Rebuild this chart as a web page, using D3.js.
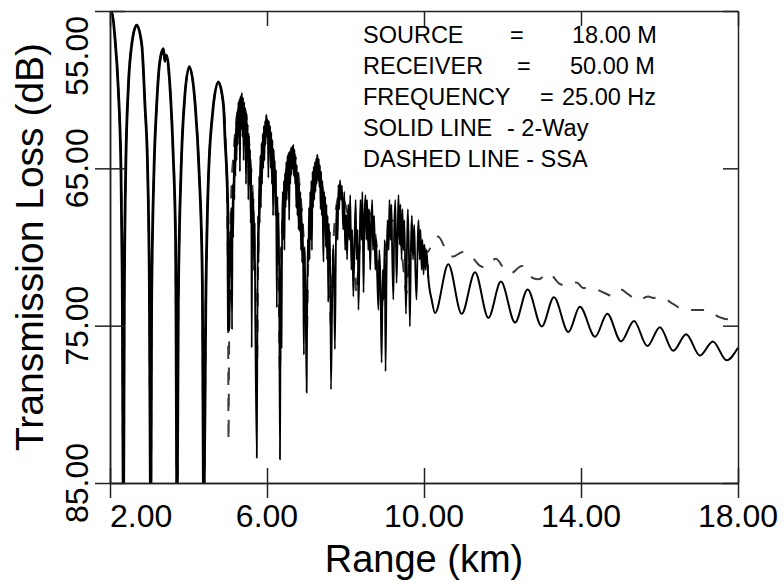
<!DOCTYPE html>
<html>
<head>
<meta charset="utf-8">
<script src="https://cdn.jsdelivr.net/npm/d3@7"></script>
<style>
  body { margin: 0; background: #fff; }
  svg text { font-family: "Liberation Sans", Arial, sans-serif; fill: #000; }
</style>
</head>
<body>
<div id="chart"></div>
<script>
// ---- data: [range km, transmission loss dB] ----
// 2-way, interference lobes before the noisy part
var twoWayNear = [
  [2.00, 55.05], [2.03, 55.0], [2.127, 56.73], [2.21, 59.9], [2.28, 65.2], [2.31, 71.6], [2.345, 88],
  [2.364, 73.7], [2.40, 65.2], [2.466, 59.9], [2.553, 57.15], [2.68, 55.9], [2.81, 57.15], [2.89, 60.95], [2.96, 65.2], [3.0, 71.6], [3.04, 88],
  [3.06, 73.7], [3.12, 65.2], [3.19, 60.95], [3.27, 58.2], [3.36, 57.4], [3.40, 58.2], [3.44, 57.8], [3.53, 59.9], [3.61, 64.15], [3.67, 69.4], [3.71, 88],
  [3.74, 73.7], [3.81, 65.2], [3.89, 60.95], [4.02, 58.54], [4.17, 60.95], [4.27, 65.2], [4.35, 71.6], [4.39, 88],
  [4.44, 73.7], [4.50, 66.2], [4.61, 61.6], [4.76, 59.5], [4.89, 60.95], [4.93, 63.1], [5.0, 67.3], [5.02, 75.3]
];
// 2-way, noisy part 5 - 10 km
var twoWayNoisy = [
  [5.045, 72.7], [5.06, 69.0], [5.075, 71.5], [5.09, 67.5], [5.11, 75.25], [5.125, 66.0], [5.14, 69.4], [5.155, 64.5],
  [5.17, 67.0], [5.18, 63.1], [5.195, 65.5], [5.21, 62.0], [5.225, 64.5], [5.24, 61.4], [5.255, 63.5], [5.27, 60.8],
  [5.285, 63.0], [5.30, 60.6], [5.31, 65.2], [5.325, 60.4], [5.34, 62.5], [5.36, 60.2], [5.375, 63.0], [5.39, 60.5],
  [5.405, 64.5], [5.42, 60.8], [5.435, 63.5], [5.45, 61.2], [5.465, 66.0], [5.48, 61.5], [5.495, 64.0], [5.51, 62.2],
  [5.525, 67.0], [5.54, 62.9], [5.555, 66.0], [5.57, 63.8], [5.585, 68.5], [5.60, 65.0], [5.61, 76.4], [5.625, 66.5],
  [5.64, 70.0], [5.655, 66.9], [5.67, 71.5], [5.685, 68.5], [5.70, 74.0], [5.74, 83.4],
  [5.755, 75.0], [5.77, 68.0], [5.785, 71.0], [5.80, 65.5], [5.815, 68.5], [5.83, 64.2], [5.845, 67.5], [5.86, 63.4],
  [5.875, 66.0], [5.89, 62.8], [5.905, 65.0], [5.92, 62.3], [5.935, 64.5], [5.95, 62.0], [5.965, 63.5], [5.98, 61.7],
  [5.99, 61.6], [6.005, 63.0], [6.02, 61.9], [6.035, 65.6], [6.05, 62.0], [6.065, 64.0], [6.08, 62.3], [6.095, 65.0],
  [6.11, 62.7], [6.125, 66.0], [6.14, 63.2], [6.155, 68.0], [6.17, 63.8], [6.185, 66.5], [6.20, 64.5], [6.215, 68.0],
  [6.23, 65.1], [6.25, 73.85], [6.265, 66.8], [6.28, 70.3], [6.295, 67.8], [6.31, 71.5], [6.33, 83.5],
  [6.345, 75.25], [6.36, 70.0], [6.37, 76.4], [6.385, 68.9], [6.40, 66.5], [6.415, 69.5], [6.43, 65.8], [6.445, 70.2],
  [6.46, 65.3], [6.475, 67.5], [6.49, 64.6], [6.505, 67.0], [6.52, 64.2], [6.535, 66.4], [6.55, 64.0], [6.565, 68.3],
  [6.58, 63.9], [6.595, 66.0], [6.61, 63.7], [6.625, 65.4], [6.64, 63.6], [6.655, 65.0], [6.67, 63.5], [6.685, 65.5],
  [6.70, 63.8], [6.715, 66.0], [6.73, 64.3], [6.745, 67.5], [6.76, 64.8], [6.775, 68.0], [6.79, 65.3], [6.805, 68.9],
  [6.82, 66.0], [6.835, 69.0], [6.85, 66.5], [6.865, 70.2], [6.88, 67.5], [6.895, 71.0], [6.91, 68.5], [6.925, 72.1],
  [6.94, 76.85], [6.955, 70.0], [6.97, 71.6], [6.985, 73.35], [7.01, 79.25],
  [7.025, 73.35], [7.04, 69.5], [7.055, 71.0], [7.07, 67.5], [7.085, 70.8], [7.10, 66.5], [7.115, 69.5], [7.13, 65.8],
  [7.145, 70.2], [7.16, 65.2], [7.175, 67.5], [7.19, 64.9], [7.205, 67.0], [7.22, 64.6], [7.235, 66.5], [7.25, 64.4],
  [7.265, 66.0], [7.28, 64.2], [7.29, 64.15], [7.305, 65.8], [7.32, 64.4], [7.335, 66.2], [7.35, 64.8], [7.365, 67.6],
  [7.38, 65.2], [7.395, 68.0], [7.41, 65.8], [7.425, 68.9], [7.44, 70.95], [7.455, 66.5], [7.47, 68.0], [7.485, 66.8],
  [7.50, 70.0], [7.515, 67.3], [7.53, 70.8], [7.545, 68.0], [7.56, 73.5], [7.575, 68.5], [7.59, 70.2], [7.605, 69.0],
  [7.63, 79.05],
  [7.66, 73.35], [7.69, 69.85], [7.71, 72.1], [7.73, 76.5], [7.76, 68.9], [7.78, 67.3], [7.80, 69.55], [7.82, 66.05],
  [7.84, 67.6], [7.86, 65.75], [7.89, 67.0], [7.91, 66.1], [7.94, 68.9], [7.97, 66.5], [7.99, 70.2], [8.02, 67.95],
  [8.04, 70.8], [8.07, 67.3], [8.10, 69.55], [8.12, 66.7], [8.15, 71.45], [8.17, 68.9], [8.20, 73.15], [8.23, 69.55],
  [8.26, 67.0], [8.28, 70.8], [8.31, 68.9], [8.33, 74.0], [8.36, 70.2], [8.38, 67.0], [8.41, 69.55], [8.43, 66.5],
  [8.46, 72.9], [8.48, 68.3], [8.51, 66.7], [8.53, 69.55], [8.55, 67.0], [8.58, 70.2], [8.60, 67.6], [8.63, 71.45],
  [8.65, 68.9], [8.68, 67.0], [8.70, 70.2], [8.73, 68.0], [8.76, 71.45], [8.78, 69.55], [8.81, 72.1], [8.84, 74.0],
  [8.86, 70.2], [8.89, 72.1], [8.92, 77.35], [8.95, 71.45], [8.97, 73.35], [9.00, 69.55], [9.02, 77.9], [9.05, 70.8],
  [9.07, 68.3], [9.10, 70.2], [9.12, 67.0], [9.15, 69.55], [9.17, 67.3], [9.19, 70.5], [9.22, 73.35], [9.24, 68.9],
  [9.27, 67.0], [9.30, 72.3], [9.33, 68.9], [9.35, 66.7], [9.38, 69.85], [9.40, 67.3], [9.43, 70.8], [9.45, 67.6],
  [9.48, 70.2], [9.50, 68.3], [9.54, 74.25], [9.57, 69.55], [9.59, 67.6], [9.62, 71.1], [9.64, 75.05], [9.67, 69.55],
  [9.69, 68.0], [9.72, 70.8], [9.75, 68.6], [9.78, 71.45], [9.81, 73.35], [9.84, 69.55], [9.86, 68.3], [9.89, 70.8],
  [9.91, 68.9], [9.94, 71.45], [9.96, 69.55], [9.99, 71.75], [10.01, 69.85], [10.04, 71.45], [10.06, 70.2], [10.09, 71.1]
];
// 2-way, smooth tail (peaks and troughs)
var twoWayTail = [
  [10.11, 71.95], [10.20, 73.4], [10.28, 74.2], [10.62, 71.1], [10.96, 74.25], [11.30, 71.6], [11.64, 74.5],
  [11.96, 72.2], [12.32, 74.8], [12.64, 72.7], [13.0, 75.05], [13.31, 73.2], [13.68, 75.4], [13.97, 73.8],
  [14.36, 75.7], [14.67, 74.25], [15.02, 76.0], [15.35, 74.7], [15.69, 76.3], [16.01, 75.1], [16.35, 76.6],
  [16.68, 75.55], [17.03, 76.9], [17.36, 76.0], [17.71, 77.2], [18.0, 76.4]
];
// SSA, 2 - 10 km (mostly under the 2-way line)
var ssaNear = [
  [2.00, 55.05], [2.03, 55.0], [2.127, 56.8], [2.21, 59.9], [2.28, 65.2], [2.31, 71.6], [2.345, 88],
  [2.364, 73.7], [2.40, 65.2], [2.466, 59.9], [2.553, 57.15], [2.68, 55.9], [2.81, 57.15], [2.89, 60.95], [2.96, 65.2], [3.0, 71.6], [3.04, 88],
  [3.06, 73.7], [3.12, 65.2], [3.19, 60.95], [3.27, 58.2], [3.38, 57.5], [3.53, 59.9], [3.61, 64.15], [3.67, 69.4], [3.71, 88],
  [3.74, 73.7], [3.81, 65.2], [3.89, 60.95], [4.02, 58.6], [4.17, 60.95], [4.27, 65.2], [4.35, 71.6], [4.39, 88],
  [4.44, 73.7], [4.50, 66.2], [4.61, 61.6], [4.76, 59.6], [4.89, 61.0], [4.95, 63.5], [4.99, 68], [5.01, 75], [5.02, 82.35],
  [5.03, 78], [5.05, 72], [5.09, 66.5], [5.15, 64.0], [5.22, 61.8], [5.36, 60.8], [5.48, 61.8], [5.58, 64.5], [5.66, 68], [5.71, 73], [5.74, 79],
  [5.77, 72], [5.82, 66], [5.90, 63.2], [5.99, 62.2], [6.10, 63.0], [6.20, 65.2], [6.28, 69], [6.33, 78],
  [6.37, 70], [6.45, 66], [6.55, 64.4], [6.67, 64.0], [6.78, 65.0], [6.88, 67.5], [6.96, 71], [7.01, 76],
  [7.05, 71], [7.12, 67], [7.20, 65.4], [7.29, 64.8], [7.38, 65.6], [7.48, 67.5], [7.57, 70.5], [7.63, 75],
  [7.68, 70.5], [7.76, 67.5], [7.86, 66.6], [7.96, 67], [8.06, 68], [8.16, 69.5], [8.24, 71.5], [8.28, 73],
  [8.33, 71], [8.42, 68.5], [8.55, 67.6], [8.68, 68.3], [8.80, 70], [8.88, 72.5], [8.92, 74],
  [8.97, 72], [9.05, 69.5], [9.18, 68.3], [9.30, 68.8], [9.42, 70], [9.50, 72], [9.55, 73],
  [9.60, 71.5], [9.70, 69.8], [9.82, 69.4], [9.95, 69.8], [10.05, 70.2]
];
// SSA, tail beyond 10 km
var ssaTail = [
  [10.10, 70.3], [10.19, 69.85], [10.36, 69.33], [10.50, 69.9], [10.58, 70.4], [10.74, 70.6], [10.87, 70.45],
  [11.00, 70.3], [11.17, 70.5], [11.43, 71.2], [11.55, 71.3], [11.83, 70.75], [12.09, 71.55], [12.22, 71.65],
  [12.49, 71.2], [12.77, 71.97], [12.92, 72.05], [13.17, 71.65], [13.46, 72.35], [13.62, 72.45], [13.89, 72.25],
  [14.05, 72.6], [14.23, 72.6], [14.40, 72.7], [14.64, 72.97], [14.78, 73.1], [15.01, 72.7], [15.20, 73.0],
  [15.46, 73.4], [15.71, 73.14], [15.84, 73.24], [16.05, 73.2], [16.31, 73.56], [16.65, 74.0], [16.85, 74.0],
  [17.16, 74.0], [17.54, 74.47], [17.75, 74.6], [18.0, 74.5]
];

var xTicks = [2, 6, 10, 14, 18];
var yTicks = [55, 65, 75, 85];
var infoLines = [
  ["SOURCE", "=", "18.00 M"],
  ["RECEIVER", "=", "50.00 M"],
  ["FREQUENCY", "=", "25.00 Hz"],
  ["SOLID LINE", "- 2-Way", ""],
  ["DASHED LINE - SSA", "", ""]
];

// size of the svg
var W = 784, H = 583;
var margin = { top: 11, right: 46, bottom: 100, left: 110 },
    w = W - margin.left - margin.right,
    h = H - margin.top - margin.bottom;

var svg = d3.select('#chart').append('svg')
    .attr('width', W)
    .attr('height', H);

var g = svg.append('g')
    .attr('transform', `translate(${margin.left},${margin.top})`);

var x = d3.scaleLinear().domain([2, 18]).range([0, w]);
var y = d3.scaleLinear().domain([55, 85]).range([0, h]);

g.append('clipPath').attr('id', 'plotclip')
  .append('rect').attr('width', w).attr('height', h);

var line = d3.line()
    .x(function (d) { return x(d[0]); })
    .y(function (d) { return y(d[1]); })
    .curve(d3.curveMonotoneX);

var plot = g.append('g').attr('clip-path', 'url(#plotclip)');

// SSA first, dashed, under the 2-way line
plot.append('path')
    .datum(ssaNear.concat(ssaTail))
    .attr('d', line)
    .attr('fill', 'none')
    .attr('stroke', '#3c3c3c')
    .attr('stroke-width', 2)
    .attr('stroke-dasharray', '13,13');

// 2-way in three pieces: heavy lobes, finer noisy band, smooth tail
function drawTwoWay(pts, sw) {
  plot.append('path')
      .datum(pts)
      .attr('d', line)
      .attr('fill', 'none')
      .attr('stroke', '#000')
      .attr('stroke-width', sw)
      .attr('stroke-linejoin', 'round');
}
drawTwoWay(twoWayNear.concat(twoWayNoisy.slice(0, 1)), 2.8);
drawTwoWay(twoWayNear.slice(-1).concat(twoWayNoisy, twoWayTail.slice(0, 1)), 1.8);
drawTwoWay(twoWayNoisy.slice(-1).concat(twoWayTail), 2);

// axes: frame plus ticks crossing the axes
function styleAxis(sel) {
  sel.selectAll('path').attr('stroke', '#222').attr('stroke-width', 1.5);
  sel.selectAll('line').attr('stroke', '#222').attr('stroke-width', 1.5);
  sel.selectAll('text').remove();
}
g.append('g').call(d3.axisLeft(y).tickValues(yTicks).tickSize(15).tickSizeOuter(0)).call(styleAxis);
g.append('g').call(d3.axisLeft(y).tickValues(yTicks).tickSize(-15).tickSizeOuter(0)).call(styleAxis);
g.append('g').attr('transform', `translate(${w},0)`)
  .call(d3.axisRight(y).tickValues(yTicks).tickSize(-15).tickSizeOuter(0)).call(styleAxis);
g.append('g').call(d3.axisTop(x).tickValues(xTicks).tickSize(-15).tickSizeOuter(0)).call(styleAxis);
g.append('g').attr('transform', `translate(0,${h})`)
  .call(d3.axisBottom(x).tickValues(xTicks).tickSize(15).tickSizeOuter(0)).call(styleAxis);
g.append('g').attr('transform', `translate(0,${h})`)
  .call(d3.axisBottom(x).tickValues(xTicks).tickSize(-15).tickSizeOuter(0)).call(styleAxis);

var fmt = d3.format('.2f');

// tick labels
g.selectAll('.xlab').data(xTicks).enter().append('text')
    .attr('class', 'xlab')
    .attr('x', function (d) { return x(d); })
    .attr('y', h + 44)
    .attr('text-anchor', function (d, i) { return i === 0 ? 'start' : 'middle'; })
    .style('font-size', '32px')
    .text(fmt);

g.selectAll('.ylab').data(yTicks).enter().append('text')
    .attr('class', 'ylab')
    .attr('transform', function (d, i) {
      var yy = i === 0 ? 45 : y(d);
      return `translate(-22,${yy}) rotate(-90)`;
    })
    .attr('text-anchor', 'middle')
    .style('font-size', '32px')
    .text(fmt);

// axis titles
g.append('text')
    .attr('x', w / 2)
    .attr('y', h + 89)
    .attr('text-anchor', 'middle')
    .style('font-size', '38px')
    .text('Range (km)');

g.append('text')
    .attr('transform', `translate(-67,${h / 2}) rotate(-90)`)
    .attr('text-anchor', 'middle')
    .style('font-size', '39px')
    .text('Transmission Loss (dB)');

// info block
var colX = [[363, 510, 572], [363, 517, 570], [363, 540, 562], [363, 507, 0], [363, 0, 0]];
var info = svg.append('g').style('font-size', '23.5px');
infoLines.forEach(function (row, i) {
  row.forEach(function (s, j) {
    if (!s) return;
    info.append('text')
        .attr('x', colX[i][j])
        .attr('y', 43 + i * 31.1)
        .text(s);
  });
});
</script>
</body>
</html>
